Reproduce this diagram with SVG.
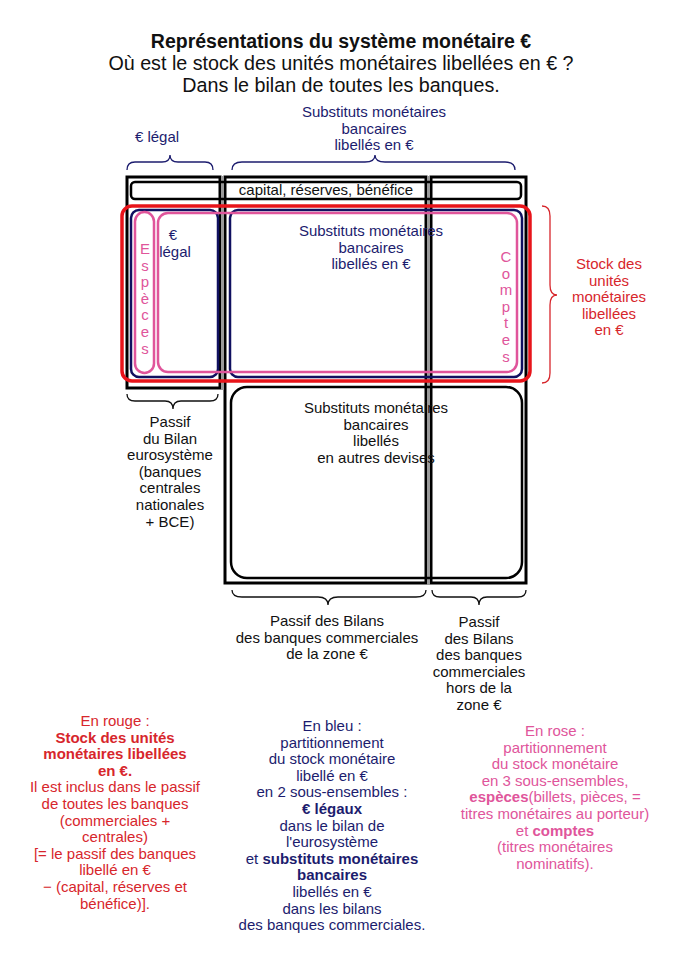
<svg xmlns="http://www.w3.org/2000/svg" width="687" height="960" viewBox="0 0 687 960">
<style>
text{font-family:"Liberation Sans",Arial,sans-serif;font-size:15px;text-anchor:middle}
.t{fill:#111}
.b{fill:#1c1c6e}
.r{fill:#d7262c}
.p{fill:#e0559b}
.bold{font-weight:bold}
.box{fill:none;stroke:#000;stroke-width:3}
.gray{stroke:#9a9a9a;stroke-width:3;fill:none}
.blk{fill:none;stroke:#000;stroke-width:2.5}
.blue{fill:none;stroke:#101060;stroke-width:2.5}
.pink{fill:none;stroke:#e0559b;stroke-width:2.5}
.red{fill:none;stroke:#e8141a;stroke-width:3.5}
.brace{fill:none;stroke-width:1.3}
</style>
<rect width="687" height="960" fill="#fff"/>
<g id="title">
<text x="341" y="48" class="t bold" style="font-size:19.5px">Représentations du système monétaire €</text>
<text x="341" y="69.5" class="t" style="font-size:19.7px">Où est le stock des unités monétaires libellées en € ?</text>
<text x="341" y="91.5" class="t" style="font-size:19.7px">Dans le bilan de toutes les banques.</text>
</g>
<g id="label-euro-legal-top">
<text x="157" y="142" class="b">€ légal</text>
</g>
<g id="label-substituts-top">
<text x="374" y="117" class="b">Substituts monétaires</text>
<text x="374" y="133.6" class="b">bancaires</text>
<text x="374" y="150.2" class="b">libellés en €</text>
</g>
<g id="eurosysteme-box">
<rect x="127" y="177" width="93" height="211" class="box"/>
</g>
<g id="commerciales-zone-box">
<rect x="225" y="177" width="201" height="406" class="box"/>
</g>
<g id="hors-zone-box">
<rect x="431" y="177" width="95" height="406" class="box"/>
</g>
<g id="separators">
<line x1="222.5" y1="176" x2="222.5" y2="390" class="gray"/>
<line x1="428.5" y1="176" x2="428.5" y2="585" class="gray"/>
</g>
<g id="capital">
<rect x="131" y="182" width="390" height="17" rx="4" class="blk"/>
<text x="326" y="195" class="t">capital, réserves, bénéfice</text>
</g>
<g id="euro-legal">
<rect x="131" y="210" width="87" height="167" rx="8" class="blue"/>
<text x="173" y="240" class="b">€</text>
<text x="175" y="257" class="b">légal</text>
</g>
<g id="substituts-euro">
<rect x="230" y="210" width="292" height="167" rx="8" class="blue"/>
<text x="371" y="236" class="b">Substituts monétaires</text>
<text x="371" y="252.6" class="b">bancaires</text>
<text x="371" y="269.2" class="b">libellés en €</text>
</g>
<g id="especes">
<rect x="135" y="212" width="19" height="161" rx="9.5" class="pink"/>
<text x="145" y="254" class="p">E</text>
<text x="145" y="270.6" class="p">s</text>
<text x="145" y="287.2" class="p">p</text>
<text x="145" y="303.8" class="p">è</text>
<text x="145" y="320.4" class="p">c</text>
<text x="145" y="337" class="p">e</text>
<text x="145" y="353.6" class="p">s</text>
</g>
<g id="comptes">
<rect x="158" y="213" width="359" height="159" rx="10" class="pink"/>
<text x="506" y="262" class="p">C</text>
<text x="506" y="278.6" class="p">o</text>
<text x="506" y="295.2" class="p">m</text>
<text x="506" y="311.8" class="p">p</text>
<text x="506" y="328.4" class="p">t</text>
<text x="506" y="345" class="p">e</text>
<text x="506" y="361.6" class="p">s</text>
</g>
<g id="stock-euro">
<rect x="122" y="206" width="408" height="175" rx="10" class="red"/>
</g>
<g id="autres-devises">
<rect x="231" y="387" width="291" height="191" rx="16" class="blk"/>
<text x="376" y="413" class="t">Substituts monétaires</text>
<text x="376" y="429.6" class="t">bancaires</text>
<text x="376" y="446.2" class="t">libellés</text>
<text x="376" y="462.8" class="t">en autres devises</text>
</g>
<g id="connectors">
<path class="brace" stroke="#1c1c6e" d="M127,170 Q127,162 135,162 L162,162 Q170,162 170,155 Q170,162 178,162 L205,162 Q213,162 213,170"/>
<path class="brace" stroke="#1c1c6e" d="M232,170 Q232,162 242,162 L365,162 Q375,162 375,155 Q375,162 385,162 L505,162 Q515,162 515,170"/>
<path class="brace" stroke="#d7262c" d="M542,206 Q550,206 550,216 L550,285 Q550,295 557,295 Q550,295 550,305 L550,373 Q550,383 542,383"/>
<path class="brace" stroke="#111" d="M127,394 Q127,401 135,401 L165,401 Q173,401 173,409 Q173,401 181,401 L210,401 Q218,401 218,394"/>
<path class="brace" stroke="#111" d="M232,590 Q232,597 242,597 L318,597 Q328,597 328,605 Q328,597 338,597 L416,597 Q426,597 426,590"/>
<path class="brace" stroke="#111" d="M432,590 Q432,597 440,597 L471,597 Q479,597 479,605 Q479,597 487,597 L518,597 Q526,597 526,590"/>
</g>
<g id="label-eurosysteme">
<text x="170" y="427" class="t">Passif</text>
<text x="170" y="443.6" class="t">du Bilan</text>
<text x="170" y="460.2" class="t">eurosystème</text>
<text x="170" y="476.8" class="t">(banques</text>
<text x="170" y="493.4" class="t">centrales</text>
<text x="170" y="510" class="t">nationales</text>
<text x="170" y="526.6" class="t">+ BCE)</text>
</g>
<g id="label-zone">
<text x="327" y="626" class="t">Passif des Bilans</text>
<text x="327" y="642.6" class="t">des banques commerciales</text>
<text x="327" y="659.2" class="t">de la zone €</text>
</g>
<g id="label-hors-zone">
<text x="479" y="627" class="t">Passif</text>
<text x="479" y="643.6" class="t">des Bilans</text>
<text x="479" y="660.2" class="t">des banques</text>
<text x="479" y="676.8" class="t">commerciales</text>
<text x="479" y="693.4" class="t">hors de la</text>
<text x="479" y="710" class="t">zone €</text>
</g>
<g id="label-stock-right">
<text x="609" y="269" class="r">Stock des</text>
<text x="609" y="285.6" class="r">unités</text>
<text x="609" y="302.2" class="r">monétaires</text>
<text x="609" y="318.8" class="r">libellées</text>
<text x="609" y="335.4" class="r">en €</text>
</g>
<g id="legend-rouge">
<text x="115" y="726" class="r">En rouge :</text>
<text x="115" y="742.6" class="r bold">Stock des unités</text>
<text x="115" y="759.2" class="r bold">monétaires libellées</text>
<text x="115" y="775.8" class="r bold">en €.</text>
<text x="115" y="792.4" class="r">Il est inclus dans le passif</text>
<text x="115" y="809" class="r">de toutes les banques</text>
<text x="115" y="825.6" class="r">(commerciales +</text>
<text x="115" y="842.2" class="r">centrales)</text>
<text x="115" y="858.8" class="r">[= le passif des banques</text>
<text x="115" y="875.4" class="r">libellé en €</text>
<text x="115" y="892" class="r">− (capital, réserves et</text>
<text x="115" y="908.6" class="r">bénéfice)].</text>
</g>
<g id="legend-bleu">
<text x="332" y="731" class="b">En bleu :</text>
<text x="332" y="747.6" class="b">partitionnement</text>
<text x="332" y="764.2" class="b">du stock monétaire</text>
<text x="332" y="780.8" class="b">libellé en €</text>
<text x="332" y="797.4" class="b">en 2 sous-ensembles :</text>
<text x="332" y="814" class="b bold">€ légaux</text>
<text x="332" y="830.6" class="b">dans le bilan de</text>
<text x="332" y="847.2" class="b">l'eurosystème</text>
<text x="332" y="863.8" class="b">et <tspan class="bold">substituts monétaires</tspan></text>
<text x="332" y="880.4" class="b bold">bancaires</text>
<text x="332" y="897" class="b">libellés en €</text>
<text x="332" y="913.6" class="b">dans les bilans</text>
<text x="332" y="930.2" class="b">des banques commerciales.</text>
</g>
<g id="legend-rose">
<text x="555" y="736" class="p">En rose :</text>
<text x="555" y="752.6" class="p">partitionnement</text>
<text x="555" y="769.2" class="p">du stock monétaire</text>
<text x="555" y="785.8" class="p">en 3 sous-ensembles,</text>
<text x="555" y="802.4" class="p"><tspan class="bold">espèces</tspan>(billets, pièces, =</text>
<text x="555" y="819" class="p">titres monétaires au porteur)</text>
<text x="555" y="835.6" class="p">et <tspan class="bold">comptes</tspan></text>
<text x="555" y="852.2" class="p">(titres monétaires</text>
<text x="555" y="868.8" class="p">nominatifs).</text>
</g>
</svg>
